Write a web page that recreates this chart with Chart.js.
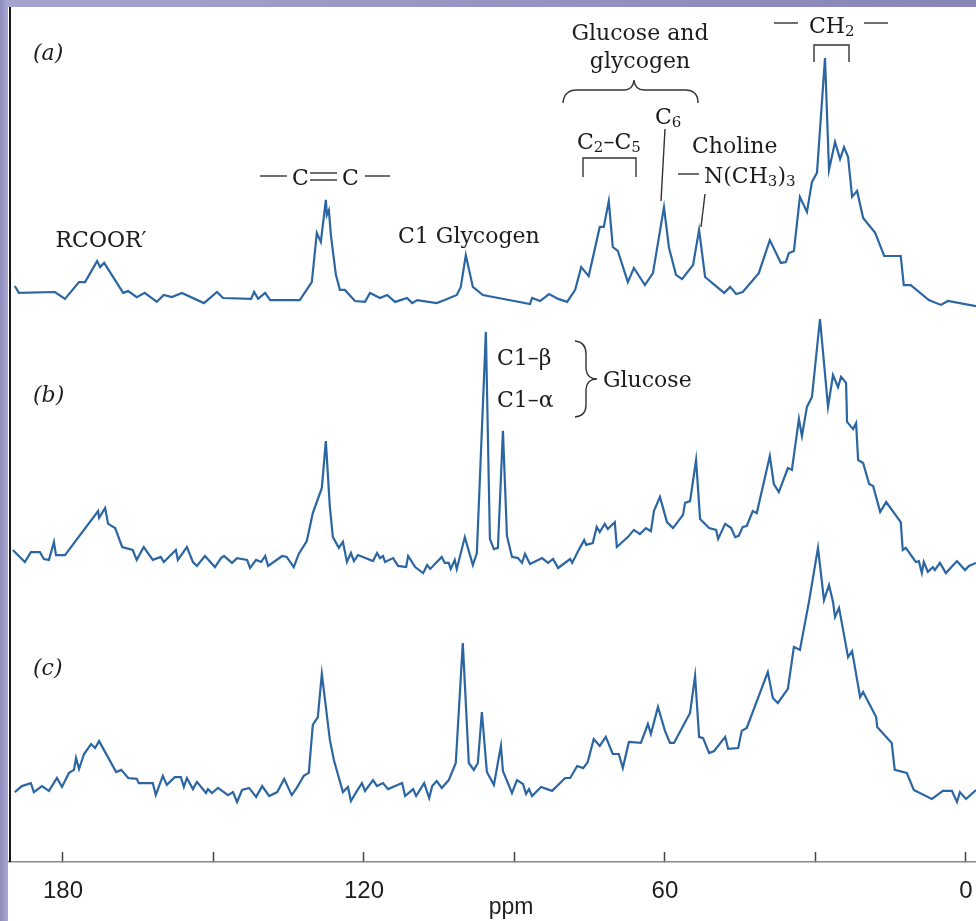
<!DOCTYPE html>
<html>
<head>
<meta charset="utf-8">
<script src="https://cdn.jsdelivr.net/npm/chart.js@4.4.1/dist/chart.umd.min.js"></script>
<style>
html, body { margin: 0; padding: 0; background: #fff; }
canvas { display: block; }
</style>
</head>
<body>
<canvas id="nmr" width="976" height="921"></canvas>
<script>
// 13C NMR spectra (a), (b), (c) - chemical shift in ppm, intensity in arbitrary units
var xTicks = [180, 150, 120, 90, 60, 30, 0];
var xTickLabels = ['180', '', '120', '', '60', '', '0'];
var xTitle = 'ppm';

var ppmA = [189.6,188.8,181.6,179.6,176.8,175.6,173.2,172.6,171.8,168.0,
  167.0,165.3,163.7,161.3,159.9,158.3,156.3,151.9,149.3,148.1,
  142.5,141.9,141.1,139.7,138.7,132.8,130.4,129.4,128.6,127.6,
  127.4,127.0,126.6,125.6,124.8,123.8,121.8,119.8,118.8,116.8,
  115.4,113.8,111.4,110.4,109.4,105.5,103.9,101.5,100.7,99.7,
  98.3,96.3,86.9,86.5,84.9,83.1,81.3,79.5,77.9,76.7,
  75.2,73.0,72.2,71.2,70.4,69.4,67.4,66.2,64.0,62.4,
  60.2,59.2,57.8,56.6,54.4,53.2,52.0,48.2,47.0,45.8,
  44.5,41.3,39.1,36.9,35.9,35.3,34.3,33.1,31.7,30.7,
  29.7,28.1,27.3,26.1,25.1,24.3,23.5,22.7,21.7,20.5,
  18.1,16.3,13.0,12.4,11.0,7.4,5.0,3.6,-2.0];
var intA = [7.0,4.7,5.0,2.7,8.3,8.3,15.3,13.3,14.7,4.7,
  5.3,3.3,4.7,1.7,4.0,3.3,4.7,1.3,5.0,3.0,
  2.7,5.0,2.7,4.7,2.3,2.3,8.3,24.7,21.7,35.7,
  30.7,32.3,24.0,10.7,5.7,5.7,2.0,1.7,4.7,3.0,
  4.0,1.7,3.0,1.3,2.3,1.3,2.3,4.0,6.7,17.3,
  6.7,4.0,1.0,3.0,2.0,4.3,2.7,1.7,5.7,13.3,
  10.3,26.7,26.7,35.3,20.0,18.7,8.3,13.0,7.3,11.3,
  33.3,19.7,10.7,9.3,14.0,25.7,10.0,4.7,6.7,4.3,
  5.0,11.3,22.3,14.7,15.0,18.0,18.7,36.7,31.7,41.7,
  44.7,83.0,45.7,55.0,49.3,53.3,50.0,36.7,38.7,29.7,
  24.7,17.0,17.0,7.3,7.3,2.3,0.7,2.0,0.3];

var ppmB = [190.0,187.6,186.4,184.6,183.8,182.8,181.8,181.4,179.6,173.0,
  172.8,171.6,171.0,169.6,168.2,166.1,165.3,163.9,162.1,160.5,
  159.9,157.5,157.1,155.3,154.1,153.3,151.7,149.7,148.5,147.9,
  146.3,145.3,143.3,142.7,141.5,140.5,139.7,139.1,136.3,135.4,
  134.0,133.0,131.4,130.2,128.4,127.6,126.8,126.2,125.0,124.2,
  123.4,122.6,122.0,121.2,118.2,117.4,116.8,116.2,115.8,114.2,
  113.2,111.6,111.2,109.8,108.2,107.4,106.8,104.5,103.9,103.1,
  102.7,101.9,101.5,99.9,98.3,97.5,95.7,94.9,94.1,93.3,
  92.3,91.5,90.5,89.3,88.5,87.9,86.9,84.5,83.3,82.3,
  81.3,78.9,78.5,77.1,76.1,75.7,74.4,73.6,73.0,72.0,
  71.4,70.0,69.6,67.4,66.2,65.0,63.8,62.8,62.2,61.0,
  59.6,58.4,56.4,56.0,55.0,53.8,53.0,51.2,49.8,49.4,
  48.0,46.8,46.0,45.3,44.5,43.7,42.5,41.7,39.1,38.3,
  37.3,35.5,34.7,33.3,32.7,31.7,30.7,29.1,27.5,26.5,
  25.5,24.9,23.9,23.7,22.5,21.9,21.5,20.5,19.3,18.5,
  17.1,15.9,13.0,12.6,12.0,10.0,9.4,8.8,8.4,7.6,
  6.6,6.2,5.2,4.0,1.8,0.2,-0.6,-2.0];
var intB = [9.0,5.0,8.3,8.3,6.0,5.7,11.7,7.3,7.3,22.0,
  19.7,23.0,17.7,16.3,10.0,9.0,5.7,10.0,5.7,6.7,
  5.0,9.0,5.7,10.0,5.0,3.7,7.0,3.3,6.3,7.0,
  4.7,6.3,5.7,3.0,5.7,5.0,7.0,3.7,7.0,6.7,
  3.3,7.7,12.0,21.3,29.7,45.3,23.3,13.3,9.7,11.7,
  5.0,8.0,5.3,7.3,5.3,8.0,6.3,7.0,5.0,6.3,
  3.7,3.3,7.0,3.3,1.3,4.0,2.7,6.7,4.7,4.7,
  2.7,5.7,2.7,13.3,4.0,8.0,81.7,12.7,9.3,9.7,
  48.7,13.7,6.7,6.3,4.7,7.7,4.3,6.3,4.7,6.0,
  3.0,6.0,4.7,9.3,12.3,10.7,11.3,16.7,15.0,17.7,
  16.0,18.3,10.0,13.3,15.7,14.3,16.3,15.3,22.0,26.7,
  18.3,16.3,20.7,24.7,25.3,39.0,19.3,16.3,15.7,12.7,
  17.7,16.3,13.3,13.7,16.7,17.0,22.0,21.3,40.3,31.0,
  28.3,36.3,35.7,52.7,47.0,56.7,60.0,86.0,56.7,67.3,
  63.3,66.7,64.7,51.7,49.3,51.3,39.0,38.0,31.0,30.3,
  21.7,25.0,18.3,9.0,9.7,5.0,5.3,1.3,5.0,1.7,
  3.3,2.3,4.7,1.3,5.3,2.3,3.7,4.7];

var ppmC = [189.6,188.2,186.4,185.8,184.2,182.8,181.2,180.2,178.8,177.8,
  177.4,176.8,175.8,174.4,173.6,172.8,169.4,168.4,167.0,165.3,
  164.9,162.1,161.5,160.1,159.3,157.7,156.5,155.9,155.3,154.1,
  153.3,151.5,151.1,150.3,149.1,147.1,146.1,145.3,144.3,142.9,
  141.5,140.3,138.9,137.3,135.9,134.4,133.4,132.0,131.0,130.2,
  129.2,128.4,126.8,126.0,124.2,123.2,122.6,121.4,120.4,119.8,
  118.2,117.4,116.2,115.2,112.4,111.8,110.2,109.6,108.0,107.0,
  106.4,105.5,104.5,103.1,101.7,100.3,99.1,98.1,97.3,96.5,
  95.5,94.1,92.7,92.3,90.5,89.5,88.3,87.7,87.1,86.5,
  84.7,82.5,79.9,78.9,77.5,76.3,75.4,74.2,73.0,71.8,
  70.4,69.2,68.4,67.2,64.8,63.4,62.8,61.4,60.0,59.0,
  58.2,55.0,54.0,53.2,52.4,51.2,50.2,48.0,47.4,45.4,
  44.7,43.7,39.5,38.5,37.5,35.5,34.3,33.1,31.3,29.5,
  28.3,27.3,26.5,26.1,25.3,23.5,22.7,21.1,20.5,17.9,
  17.7,14.8,14.2,11.8,10.4,6.8,4.6,2.8,1.8,1.2,
  0.0,-2.0];
var intC = [23.3,25.3,26.3,23.3,25.3,23.7,28.0,25.0,29.7,30.7,
  34.7,31.0,36.0,39.3,38.0,40.3,30.0,30.7,28.0,27.7,
  26.3,26.3,22.3,28.7,25.7,28.3,28.3,25.0,28.0,24.3,
  26.7,23.0,24.3,23.0,24.7,22.3,23.3,20.0,24.0,24.7,
  21.7,25.3,22.0,23.3,27.7,22.3,24.7,28.7,29.7,45.7,
  48.3,62.7,40.7,34.0,23.3,25.0,20.3,23.7,26.3,23.7,
  27.3,25.3,26.3,24.3,26.3,22.0,24.3,22.0,26.3,21.3,
  25.3,27.0,24.7,27.3,33.0,73.0,33.0,30.7,33.0,50.0,
  30.0,25.7,38.7,30.3,23.0,27.3,26.0,22.7,24.3,22.0,
  25.0,23.7,28.0,28.0,32.0,31.3,33.3,41.0,38.7,41.7,
  36.0,36.0,31.3,40.0,39.7,46.0,42.7,51.7,43.7,39.7,
  39.7,49.7,62.0,41.7,41.3,36.3,37.0,41.7,37.7,38.0,
  43.7,44.7,63.3,54.7,53.0,57.7,71.7,70.7,86.7,104.7,
  87.3,92.3,86.7,81.7,84.7,68.3,70.3,55.0,56.7,48.3,
  45.0,39.7,30.7,29.7,24.0,21.0,23.7,23.7,20.0,23.3,
  21.0,24.0];

function pts(ppm, inten) {
    return ppm.map(function(p, i){ return {x: p, y: inten[i]}; });
}

var lineColor = '#2b66a3';
var ink = '#1c1c1c';
var serif = '"DejaVu Serif", serif';
var sans = '"Liberation Sans", Arial, sans-serif';

// text labels on the figure ('_' prefix = subscript)
var labels = [
    {parts: ['(a)'], x: 33, y: 60, italic: true},
    {parts: ['(b)'], x: 33, y: 402, italic: true},
    {parts: ['(c)'], x: 33, y: 675, italic: true},
    {parts: ['RCOOR\u2032'], x: 101, y: 247, align: 'center'},
    {parts: ['C'], x: 292, y: 185},
    {parts: ['C'], x: 342, y: 185},
    {parts: ['C1 Glycogen'], x: 398, y: 243},
    {parts: ['Glucose and'], x: 640, y: 40, align: 'center'},
    {parts: ['glycogen'], x: 640, y: 68, align: 'center'},
    {parts: ['C', '_2', '\u2013C', '_5'], x: 577, y: 149},
    {parts: ['C', '_6'], x: 655, y: 124},
    {parts: ['Choline'], x: 692, y: 153},
    {parts: ['N(CH', '_3', ')', '_3'], x: 704, y: 183},
    {parts: ['CH', '_2'], x: 809, y: 33},
    {parts: ['C1\u2013\u03b2'], x: 497, y: 365},
    {parts: ['C1\u2013\u03b1'], x: 497, y: 407},
    {parts: ['Glucose'], x: 603, y: 387}
];

var rules = [
    [[260,176],[287,176]], [[365,176],[390,176]],
    [[310,173],[337,173]], [[310,180],[337,180]],
    [[583,177],[583,158],[636,158],[636,177]],
    [[665,129],[661,201]],
    [[678,174],[699,174]],
    [[705,194],[701,227]],
    [[774,23],[798,23]], [[864,23],[888,23]],
    [[814,62],[814,45],[849,45],[849,62]]
];

function rich(ctx, lab) {
    var size = 22, subSize = 15;
    var fontFor = function(p){
        return (lab.italic ? 'italic ' : '') + (p.charAt(0) === '_' ? subSize : size) + 'px ' + serif;
    };
    var w = 0;
    lab.parts.forEach(function(p){
        ctx.font = fontFor(p);
        w += ctx.measureText(p.replace(/^_/, '')).width;
    });
    var cx = lab.align === 'center' ? lab.x - w / 2 : lab.x;
    lab.parts.forEach(function(p){
        var t = p.replace(/^_/, '');
        ctx.font = fontFor(p);
        ctx.fillText(t, cx, p.charAt(0) === '_' ? lab.y + 3 : lab.y);
        cx += ctx.measureText(t).width;
    });
}

var figurePlugin = {
    id: 'figure',
    beforeDraw: function(chart){
        var ctx = chart.ctx;
        ctx.save();
        ctx.fillStyle = '#fff';
        ctx.fillRect(0, 0, chart.width, chart.height);
        ctx.restore();
    },
    afterDraw: function(chart){
        var ctx = chart.ctx, area = chart.chartArea;
        ctx.save();
        // left axis line
        ctx.strokeStyle = '#161616';
        ctx.lineWidth = 2;
        ctx.beginPath();
        ctx.moveTo(area.left + 1, area.top);
        ctx.lineTo(area.left + 1, area.bottom);
        ctx.stroke();

        // x axis title sits a bit right of centre in the original
        ctx.fillStyle = '#1e1e1e';
        ctx.font = '23px ' + sans;
        ctx.textAlign = 'center';
        ctx.textBaseline = 'alphabetic';
        ctx.fillText(xTitle, 511, 914);

        // annotations
        ctx.fillStyle = ink;
        ctx.textAlign = 'left';
        labels.forEach(function(l){ rich(ctx, l); });

        ctx.strokeStyle = '#333';
        ctx.lineWidth = 1.4;
        rules.forEach(function(r){
            ctx.beginPath();
            ctx.moveTo(r[0][0], r[0][1]);
            for (var i = 1; i < r.length; i++) ctx.lineTo(r[i][0], r[i][1]);
            ctx.stroke();
        });

        // brace over glucose and glycogen
        ctx.beginPath();
        ctx.moveTo(563, 103);
        ctx.quadraticCurveTo(564, 90, 577, 90);
        ctx.lineTo(624, 90);
        ctx.quadraticCurveTo(633, 90, 634, 80);
        ctx.quadraticCurveTo(635, 90, 644, 90);
        ctx.lineTo(685, 90);
        ctx.quadraticCurveTo(698, 90, 698, 103);
        ctx.stroke();

        // brace for C1-beta / C1-alpha
        ctx.beginPath();
        ctx.moveTo(575, 341);
        ctx.quadraticCurveTo(586, 342, 586, 354);
        ctx.lineTo(586, 369);
        ctx.quadraticCurveTo(587, 379, 597, 379);
        ctx.quadraticCurveTo(587, 379, 586, 389);
        ctx.lineTo(586, 405);
        ctx.quadraticCurveTo(586, 416, 575, 417);
        ctx.stroke();

        // slide frame
        var g = ctx.createLinearGradient(0, 0, chart.width, 0);
        g.addColorStop(0, '#a6a4cf');
        g.addColorStop(1, '#8785b5');
        ctx.fillStyle = g;
        ctx.fillRect(0, 0, chart.width, 7);
        var g2 = ctx.createLinearGradient(0, 0, 8, 0);
        g2.addColorStop(0, '#8e8cbc');
        g2.addColorStop(1, '#aaa8d2');
        ctx.fillStyle = g2;
        ctx.fillRect(0, 0, 8, chart.height);
        ctx.restore();
    }
};

function spectrum(ppm, inten, axis) {
    return {
        data: pts(ppm, inten),
        yAxisID: axis,
        borderColor: lineColor,
        borderWidth: 2.2,
        pointRadius: 0,
        fill: false,
        tension: 0,
        clip: false
    };
}

var nmrChart = new Chart(document.getElementById('nmr').getContext('2d'), {
    type: 'line',
    data: {
        datasets: [
            spectrum(ppmA, intA, 'ya'),
            spectrum(ppmB, intB, 'yb'),
            spectrum(ppmC, intC, 'yc')
        ]
    },
    options: {
        responsive: false,
        devicePixelRatio: 1,
        animation: false,
        events: [],
        layout: { padding: { left: 9, top: 7, right: 0, bottom: 0 } },
        plugins: { legend: { display: false }, tooltip: { enabled: false } },
        scales: {
            x: {
                type: 'linear',
                reverse: true,
                min: -2.0,
                max: 190.76,
                afterBuildTicks: function(scale){
                    scale.ticks = xTicks.map(function(v){ return {value: v}; });
                },
                afterFit: function(scale){
                    scale.height = 59;
                    scale.paddingLeft = 0;
                    scale.paddingRight = 0;
                },
                ticks: {
                    autoSkip: false,
                    maxRotation: 0,
                    padding: 25,
                    color: '#1e1e1e',
                    font: { family: sans, size: 24 },
                    callback: function(v, i){ return xTickLabels[i]; }
                },
                grid: {
                    drawOnChartArea: false,
                    drawTicks: true,
                    tickLength: -10,
                    tickColor: '#444',
                    tickWidth: 1.5
                },
                border: { display: true, color: '#8a8a8a', width: 1.5 },
                title: { display: false }
            },
            yc: { type: 'linear', display: false, position: 'left', stack: 'spec', stackWeight: 95, min: 0, max: 95 },
            yb: { type: 'linear', display: false, position: 'left', stack: 'spec', stackWeight: 90, min: 0, max: 90 },
            ya: { type: 'linear', display: false, position: 'left', stack: 'spec', stackWeight: 100, min: 0, max: 100 }
        }
    },
    plugins: [figurePlugin]
});
</script>
</body>
</html>
